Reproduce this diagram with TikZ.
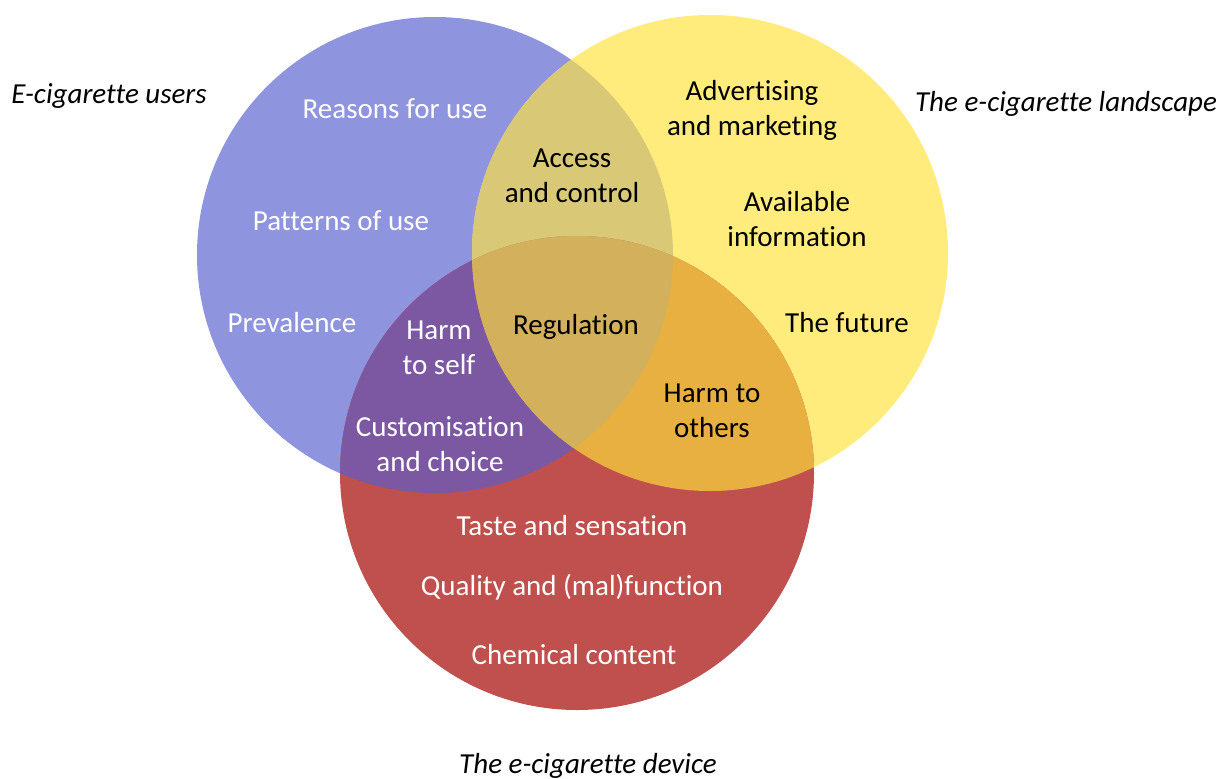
\documentclass[tikz,border=0pt]{standalone}
\usepackage{fontspec}
\setmainfont{Carlito}[RawFeature={-liga;-clig;-calt}]
\definecolor{blueC}{RGB}{142,148,222}
\definecolor{yelC}{RGB}{255,236,125}
\definecolor{redC}{RGB}{192,80,77}
\definecolor{byC}{RGB}{217,200,118}
\definecolor{brC}{RGB}{124,88,162}
\definecolor{yrC}{RGB}{232,176,64}
\definecolor{allC}{RGB}{211,177,92}
\tikzset{
  lbl/.style={inner sep=0pt, align=center, font=\fontsize{29}{35}\selectfont},
  wlbl/.style={lbl, text=white},
  blbl/.style={lbl, text=black},
  ttl/.style={lbl, font=\fontsize{29}{35}\selectfont\itshape},
}
\begin{document}
\begin{tikzpicture}[x=1pt,y=-1pt]
\useasboundingbox (0,0) rectangle (1221,779);
\coordinate (B) at (435,255);
\coordinate (Y) at (710,253);
\coordinate (R) at (577,473);
\def\rB{238pt}\def\rY{238pt}\def\rR{237pt}
\fill[blueC] (B) circle[radius=\rB];
\fill[yelC] (Y) circle[radius=\rY];
\fill[redC] (R) circle[radius=\rR];
\begin{scope}\clip (B) circle[radius=\rB]; \fill[byC] (Y) circle[radius=\rY];\end{scope}
\begin{scope}\clip (B) circle[radius=\rB]; \fill[brC] (R) circle[radius=\rR];\end{scope}
\begin{scope}\clip (Y) circle[radius=\rY]; \fill[yrC] (R) circle[radius=\rR];\end{scope}
\begin{scope}\clip (B) circle[radius=\rB]; \clip (Y) circle[radius=\rY]; \fill[allC] (R) circle[radius=\rR];\end{scope}

\node[ttl] (tu) at (109,96) {E-cigarette users};
\node[ttl] (tl) at (1066,104) {The e-cigarette landscape};
\node[ttl] (td) at (588,766) {The e-cigarette device};

\node[wlbl] (rfu) at (395,109) {Reasons for use};
\node[wlbl] (pou) at (341,221) {Patterns of use};
\node[wlbl] (prev) at (292,323) {Prevalence};
\node[wlbl] (hts) at (439,348) {Harm\\to self};
\node[wlbl] (cac) at (440,444) {Customisation\\and choice};
\node[blbl] (aac) at (572,176) {Access\\and control};
\node[blbl] (reg) at (576,327) {Regulation};
\node[blbl] (aam) at (752,110) {Advertising\\and marketing};
\node[blbl] (ai) at (797,219) {Available\\information};
\node[blbl] (tf) at (847,323) {The future};
\node[blbl] (hto) at (712,411) {Harm to\\others};
\node[wlbl] (tas) at (572,526) {Taste and sensation};
\node[wlbl] (qam) at (572,587) {Quality and (mal)function};
\node[wlbl] (cc) at (574,655) {Chemical content};
\end{tikzpicture}
\end{document}
